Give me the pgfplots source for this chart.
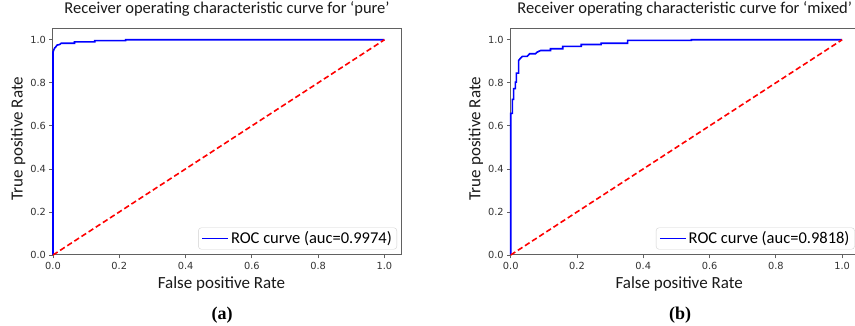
\documentclass[border=0pt]{standalone}
\usepackage{fontspec}
\setmainfont{Carlito}
\newfontfamily\dejavu{DejaVu Sans}
\newfontfamily\tnr{Liberation Serif}
\usepackage{pgfplots}
\pgfplotsset{compat=1.18}
\definecolor{framec}{gray}{0.38}
\definecolor{tickc}{gray}{0.2}
\pgfplotsset{
  rocax/.style={
    scale only axis, width=348pt, height=226pt,
    xmin=0, xmax=1.05, ymin=0, ymax=1.05,
    xtick={0,0.2,0.4,0.6,0.8,1.0}, ytick={0,0.2,0.4,0.6,0.8,1.0},
    xtick pos=bottom, ytick pos=left, tick align=outside,
    major tick length=3.5pt,
    axis line style={framec, line width=1pt},
    every tick/.style={framec, line width=0.8pt},
    tick label style={font=\dejavu\fontsize{9.8}{11}\selectfont, text=tickc},
    /pgf/number format/.cd, fixed, fixed zerofill, precision=1, assume math mode=true,
    /pgfplots/.cd,
    title style={at={(axis description cs:0.5,1.044)}, anchor=base, font=\fontsize{16.5}{18}\selectfont, text=black!90},
    xlabel style={at={(axis description cs:0.484,-0.150)}, anchor=base, font=\fontsize{17}{19}\selectfont, text=black!90},
    ylabel style={at={(axis description cs:-0.087,0.515)}, anchor=base, font=\fontsize{17}{19}\selectfont, text=black!90},
    xlabel={False positive Rate}, ylabel={True positive Rate},
    legend style={at={(axis description cs:1,0)}, anchor=south east, xshift=-4pt, yshift=5.5pt,
      rounded corners=3pt, draw=black!18, fill=white, font=\fontsize{16.5}{18}\selectfont,
      inner xsep=3pt, inner ysep=2pt},
    legend image code/.code={\draw[##1] (0pt,0pt) -- (26pt,0pt);},
    legend cell align=left,
    clip=false,
  }
}
\begin{document}
\begin{tikzpicture}[x=1pt,y=1pt]
\path[use as bounding box] (0pt,0pt) rectangle (855pt,326pt);
\begin{axis}[rocax, at={(53pt,71pt)}, anchor=south west,
  title={Receiver operating characteristic curve for ‘pure’}]
\addplot[blue, line width=1.6pt] coordinates {
(0,0) (0,0.943) (0.003,0.955) (0.005,0.962) (0.008,0.966) (0.012,0.975)
(0.020,0.978) (0.025,0.984) (0.065,0.984) (0.065,0.990) (0.126,0.990)
(0.126,0.996) (0.219,0.996) (0.219,1.0) (1,1)};
\addlegendentry{ROC curve (auc=0.9974)}
\addplot[red, line width=1.6pt, dash pattern=on 5.5pt off 3pt, forget plot] coordinates {(0,0) (1,1)};
\end{axis}
\begin{axis}[rocax, at={(510.7pt,71pt)}, anchor=south west,
  title={Receiver operating characteristic curve for ‘mixed’}]
\addplot[blue, line width=1.6pt] coordinates {
(0,0) (0,0.658) (0.005,0.658) (0.005,0.723) (0.009,0.723) (0.009,0.773)
(0.014,0.773) (0.014,0.803) (0.017,0.803) (0.017,0.845) (0.024,0.845)
(0.024,0.904) (0.030,0.915) (0.035,0.923) (0.050,0.923) (0.057,0.935)
(0.075,0.935) (0.080,0.9425) (0.090,0.950) (0.120,0.950) (0.120,0.958)
(0.157,0.958) (0.157,0.969) (0.213,0.969) (0.213,0.978) (0.273,0.978)
(0.273,0.984) (0.353,0.984) (0.353,0.997) (0.545,0.997) (0.545,1.0) (1,1)};
\addlegendentry{ROC curve (auc=0.9818)}
\addplot[red, line width=1.6pt, dash pattern=on 5.5pt off 3pt, forget plot] coordinates {(0,0) (1,1)};
\end{axis}
\node[font=\tnr\bfseries\fontsize{18}{20}\selectfont] at (222pt,11pt) {(a)};
\node[font=\tnr\bfseries\fontsize{18}{20}\selectfont] at (680pt,11pt) {(b)};
\end{tikzpicture}
\end{document}
